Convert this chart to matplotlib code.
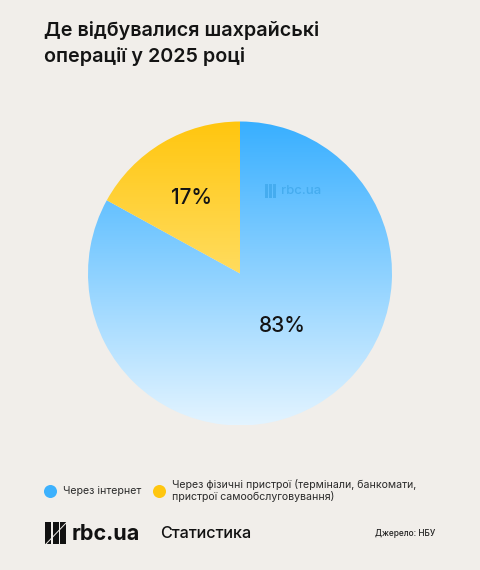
import numpy as np
import matplotlib
matplotlib.use("Agg")
import matplotlib.pyplot as plt
from matplotlib.patches import Rectangle, Polygon
from matplotlib.colors import LinearSegmentedColormap

title_lines = ["Де відбувалися шахрайські", "операції у 2025 році"]
categories = ["Через інтернет", "Через фізичні пристрої (термінали, банкомати,\nпристрої самообслуговування)"]
values = [83, 17]
labels = ["83%", "17%"]
legend_colors = ["#3DB1FD", "#FFC60F"]
grad_blue = ["#38AFFF", "#E3F4FF"]
grad_yellow = ["#FFC60F", "#FFDC5E"]
source = "Джерело: НБУ"
brand = "rbc.ua"
section = "Статистика"

BG = "#F1EEEA"
INK = "#141414"
plt.rcParams["font.family"] = ["Inter", "DejaVu Sans"]

fig = plt.figure(figsize=(4.8, 5.7), dpi=100, facecolor=BG)
ax = fig.add_axes([0, 0, 1, 1])

cx, cy, R = 240, 273.5, 152
wedges, _ = ax.pie(values, startangle=90, counterclock=False, center=(cx, 570 - cy), radius=R,
                   frame=False, wedgeprops=dict(linewidth=0))
ax.set_aspect("auto")
ax.axis("off")

g = np.linspace(0, 1, 256).reshape(-1, 1)
extent_blue = (cx - R, cx + R, 570 - cy - R, 570 - cy + R)
extent_yel = (cx - R, cx, 570 - cy, 570 - cy + R)
for w, cols, ext in zip(wedges, [grad_blue, grad_yellow], [extent_blue, extent_yel]):
    cmap = LinearSegmentedColormap.from_list("g", cols)
    w.set_facecolor("none")
    im = ax.imshow(g, cmap=cmap, extent=ext, origin="upper", aspect="auto", zorder=2)
    im.set_clip_path(w)
ax.set_xlim(0, 480)
ax.set_ylim(0, 570)

def Y(y):
    return 570 - y

# value labels
ax.text(282, Y(326.5), labels[0], fontsize=15, fontweight="medium", color=INK, ha="center", va="center", zorder=4)
ax.text(191.5, Y(197.5), labels[1], fontsize=15, fontweight="medium", color=INK, ha="center", va="center", zorder=4)

# title
ax.text(44, Y(30), title_lines[0], fontsize=14.2, fontweight="semibold", color=INK, ha="left", va="center")
ax.text(44, Y(56), title_lines[1], fontsize=14.2, fontweight="semibold", color=INK, ha="left", va="center")

# watermark
wm = "#45ACEF"
for x0 in (264.5, 268.5, 272.5):
    ax.add_patch(Rectangle((x0, Y(198)), 3, 14, fc=wm, ec="none", zorder=3))
ax.text(281, Y(191), brand, fontsize=9.5, fontweight="medium", color=wm, ha="left", va="center", zorder=3)

# legend
ax.scatter([49.5], [Y(490.5)], s=88, color=legend_colors[0], linewidths=0, zorder=3)
ax.scatter([159], [Y(490.5)], s=88, color=legend_colors[1], linewidths=0, zorder=3)
ax.text(63, Y(491), categories[0], fontsize=7.6, color="#2A2A2A", ha="left", va="center")
ax.text(172, Y(490.5), categories[1], fontsize=7.6, color="#2A2A2A", ha="left", va="center", linespacing=1.2)

# footer
for x0, w_ in ((44.5, 6.5), (52.5, 6.5), (60, 6)):
    ax.add_patch(Rectangle((x0, Y(544)), w_, 22, fc="#111111", ec="none", zorder=3))
ax.plot([46, 66], [Y(544), Y(523)], color=BG, lw=0.7, zorder=4)
ax.text(72, Y(534), brand, fontsize=15.5, fontweight="bold", color="#111111", ha="left", va="center")
ax.text(160, Y(534), section, fontsize=11.7, fontweight="medium", color="#111111", ha="left", va="center")
ax.text(435.5, Y(533.5), source, fontsize=6, fontweight="medium", color="#222222", ha="right", va="center")

fig.savefig("out.png", dpi=100, facecolor=BG)
